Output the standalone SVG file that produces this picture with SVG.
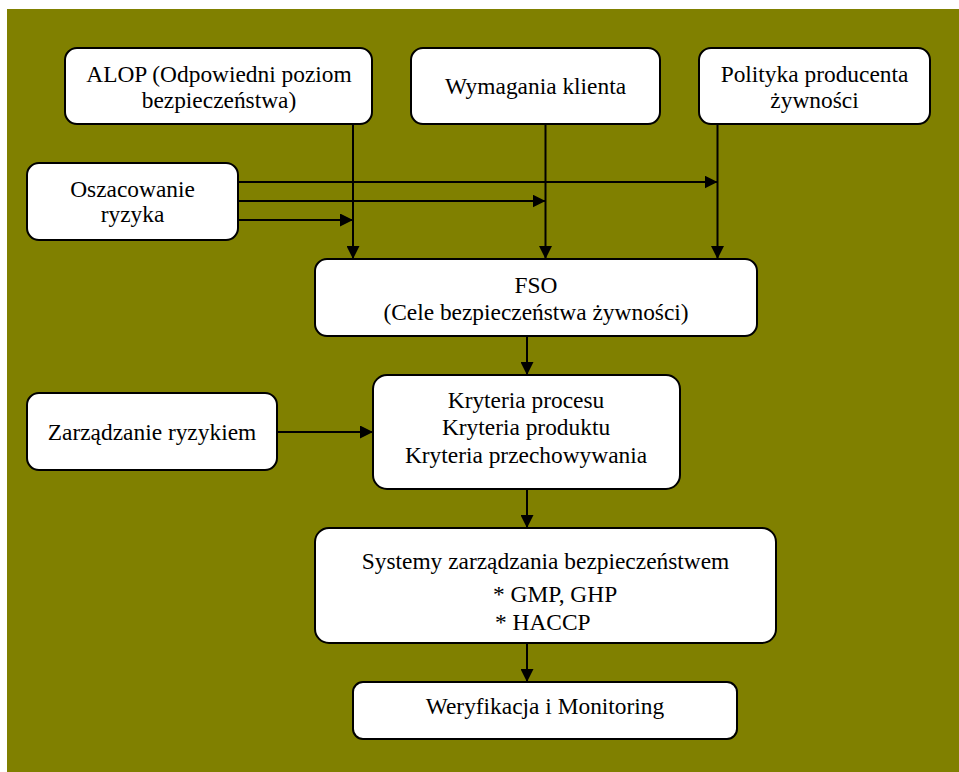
<svg xmlns="http://www.w3.org/2000/svg" width="959" height="772" viewBox="0 0 959 772">
  <defs>
    <marker id="arrow" markerUnits="userSpaceOnUse" markerWidth="13" markerHeight="13" viewBox="0 0 13 13" refX="13" refY="6.5" orient="auto">
      <path d="M0,0 L13,6.5 L0,13 Z" fill="#000"/>
    </marker>
    <style>
      .box { fill: #fff; stroke: #000; stroke-width: 2; }
      .lbl { font-family: "Liberation Serif", "Times New Roman", serif; font-size: 23.4px; fill: #000; text-anchor: middle; }
      .conn line { stroke: #000; stroke-width: 2; marker-end: url(#arrow); }
    </style>
  </defs>

  <rect x="0" y="0" width="959" height="772" fill="#fff"/>
  <rect x="7" y="9" width="952" height="763" fill="#808000"/>

  <g id="alop">
    <rect class="box" x="65" y="48" width="307" height="76" rx="12"/>
    <text class="lbl" x="219" y="82">ALOP (Odpowiedni poziom</text>
    <text class="lbl" x="219" y="108">bezpieczeństwa)</text>
  </g>
  <g id="wymagania">
    <rect class="box" x="411" y="48" width="249" height="76" rx="12"/>
    <text class="lbl" x="535.5" y="94">Wymagania klienta</text>
  </g>
  <g id="polityka">
    <rect class="box" x="699" y="48" width="231" height="76" rx="12"/>
    <text class="lbl" x="814.5" y="82">Polityka producenta</text>
    <text class="lbl" x="814.5" y="108">żywności</text>
  </g>
  <g id="oszacowanie">
    <rect class="box" x="27" y="163" width="211" height="77" rx="12"/>
    <text class="lbl" x="132.5" y="197">Oszacowanie</text>
    <text class="lbl" x="132.5" y="222">ryzyka</text>
  </g>
  <g id="fso">
    <rect class="box" x="315" y="259" width="442" height="77" rx="12"/>
    <text class="lbl" x="536" y="293">FSO</text>
    <text class="lbl" x="536" y="320">(Cele bezpieczeństwa żywności)</text>
  </g>
  <g id="zarzadzanie">
    <rect class="box" x="27" y="393" width="250" height="77" rx="12"/>
    <text class="lbl" x="152" y="440">Zarządzanie ryzykiem</text>
  </g>
  <g id="kryteria">
    <rect class="box" x="373" y="375" width="307" height="114" rx="14"/>
    <text class="lbl" x="526" y="408">Kryteria procesu</text>
    <text class="lbl" x="526" y="435">Kryteria produktu</text>
    <text class="lbl" x="526" y="463">Kryteria przechowywania</text>
  </g>
  <g id="systemy">
    <rect class="box" x="315" y="528" width="461" height="115" rx="14"/>
    <text class="lbl" x="545.5" y="569">Systemy zarządzania bezpieczeństwem</text>
    <text class="lbl" x="493" y="602" style="text-anchor:start">* GMP, GHP</text>
    <text class="lbl" x="495" y="630" style="text-anchor:start">* HACCP</text>
  </g>
  <g id="weryfikacja">
    <rect class="box" x="353" y="682" width="384" height="57" rx="10"/>
    <text class="lbl" x="545" y="714">Weryfikacja i Monitoring</text>
  </g>

  <g id="connectors" class="conn">
    <line x1="353" y1="124" x2="353" y2="259"/>
    <line x1="545.5" y1="124" x2="545.5" y2="259"/>
    <line x1="717.5" y1="124" x2="717.5" y2="259"/>
    <line x1="238" y1="182" x2="717.5" y2="182"/>
    <line x1="238" y1="201" x2="545.5" y2="201"/>
    <line x1="238" y1="220" x2="353" y2="220"/>
    <line x1="527" y1="336" x2="527" y2="375"/>
    <line x1="277" y1="432" x2="373" y2="432"/>
    <line x1="527" y1="489" x2="527" y2="528"/>
    <line x1="527" y1="643" x2="527" y2="682"/>
  </g>
</svg>
